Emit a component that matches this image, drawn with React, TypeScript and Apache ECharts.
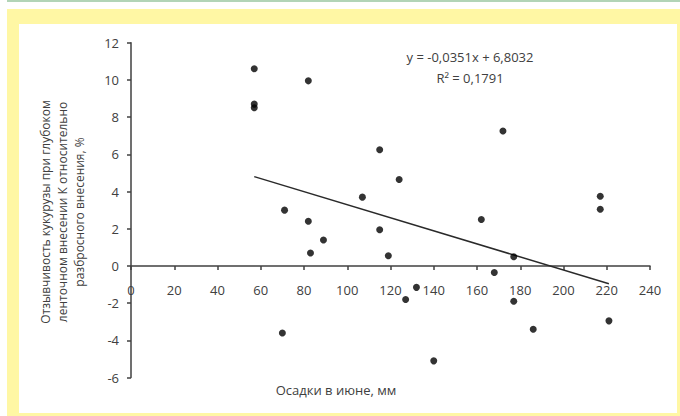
import React, { useEffect, useRef } from "react";
import * as echarts from "echarts";

// Precipitation in June, mm
const rainfall = [
  57, 57, 57, 82, 70, 71, 82, 83, 89, 107, 115, 115, 119,
  124, 127, 132, 140, 162, 168, 172, 177, 177, 186, 217, 217, 221,
];
// Response of maize to deep band application of K vs broadcast, %
const response = [
  10.6, 8.7, 8.5, 9.95, -3.6, 3.0, 2.4, 0.7, 1.4, 3.7, 6.25, 1.95, 0.55,
  4.65, -1.8, -1.15, -5.1, 2.5, -0.35, 7.25, 0.5, -1.9, -3.4, 3.75, 3.05, -2.95,
];

// Linear trend: y = slope * x + intercept
const slope = -0.0351;
const intercept = 6.8032;
const rSquared = 0.1791;

const xTicks = { min: 0, max: 240, interval: 20 };
const yTicks = { min: -6, max: 12, interval: 2 };

const xTitle = "Осадки в июне, мм";
const yTitle =
  "Отзывчивость кукурузы при глубоком\nленточном внесении К относительно\nразбросного внесения, %";

const fmt = (v: number) => Math.abs(v).toFixed(4).replace(".", ",");

const FONT = "'Open Sans', 'Liberation Sans', sans-serif";
const TEXT = "#404040";

const GRID = { left: 131, right: 30, top: 42.7, bottom: 38.4 };
const HEIGHT = 416;

export default function App() {
  const ref = useRef<HTMLDivElement>(null);

  useEffect(() => {
    if (!ref.current) return;
    const chart = echarts.init(ref.current, undefined, { renderer: "svg" });

    const points = rainfall.map((x, i) => [x, response[i]]);
    const xMin = Math.min(...rainfall);
    const xMax = Math.max(...rainfall);
    const trend = [
      [xMin, slope * xMin + intercept],
      [xMax, slope * xMax + intercept],
    ];
    const equation = `y = ${slope < 0 ? "-" : ""}${fmt(slope)}x ${
      intercept < 0 ? "-" : "+"
    } ${fmt(intercept)}`;
    const r2 = `R² = ${rSquared.toFixed(4).replace(".", ",")}`;

    // shift the category axis (with its labels) up to the y = 0 line
    const plotH = HEIGHT - GRID.top - GRID.bottom;
    const zeroOffset = (plotH * (0 - yTicks.min)) / (yTicks.max - yTicks.min);

    chart.setOption({
      animation: false,
      textStyle: { fontFamily: FONT },
      grid: GRID,
      xAxis: {
        type: "value",
        position: "bottom",
        offset: -zeroOffset,
        min: xTicks.min,
        max: xTicks.max,
        interval: xTicks.interval,
        splitLine: { show: false },
        axisLine: { onZero: false, lineStyle: { color: TEXT, width: 1.5 } },
        axisTick: { show: true, inside: false, length: 4, lineStyle: { color: TEXT, width: 1.5 } },
        axisLabel: { color: TEXT, fontSize: 13, margin: 18, fontFamily: FONT, showMinLabel: true },
      },
      yAxis: {
        type: "value",
        min: yTicks.min,
        max: yTicks.max,
        interval: yTicks.interval,
        splitLine: { show: false },
        axisLine: { show: true, onZero: false, lineStyle: { color: TEXT, width: 1.5 } },
        axisTick: { show: true, length: 4, lineStyle: { color: TEXT, width: 1.5 } },
        axisLabel: { color: TEXT, fontSize: 13, margin: 12, fontFamily: FONT },
      },
      series: [
        {
          type: "line",
          data: trend,
          symbol: "none",
          lineStyle: { color: "#2a2a2a", width: 1.5 },
          z: 2,
        },
        {
          type: "scatter",
          data: points,
          symbol: "circle",
          symbolSize: 7,
          itemStyle: { color: "#000" },
          z: 3,
        },
      ],
      graphic: [
        {
          type: "text",
          x: 470,
          y: 57,
          style: {
            text: equation,
            fill: TEXT,
            font: `13px ${FONT}`,
            align: "center",
            verticalAlign: "middle",
          },
        },
        {
          type: "text",
          x: 470,
          y: 78,
          style: {
            text: r2,
            fill: TEXT,
            font: `13px ${FONT}`,
            align: "center",
            verticalAlign: "middle",
          },
        },
        {
          type: "text",
          x: 336,
          y: 390,
          style: {
            text: xTitle,
            fill: TEXT,
            font: `13px ${FONT}`,
            align: "center",
            verticalAlign: "middle",
          },
        },
        {
          type: "text",
          x: 62,
          y: 212,
          rotation: Math.PI / 2,
          style: {
            text: yTitle,
            fill: TEXT,
            font: `12px ${FONT}`,
            lineHeight: 17,
            align: "center",
            verticalAlign: "middle",
          },
        },
      ],
    });

    return () => chart.dispose();
  }, []);

  return (
    <div style={{ position: "fixed", left: 0, top: 0, width: 680, height: 416, background: "#fff" }}>
      <div style={{ position: "absolute", left: 7, top: 0, width: 673, height: 2, background: "#b2d4b7" }} />
      <div style={{ position: "absolute", left: 7, top: 9, width: 673, height: 407, background: "#fff7a4" }} />
      <div style={{ position: "absolute", left: 19, top: 24, width: 658, height: 389, background: "#fff" }} />
      <div ref={ref} style={{ position: "absolute", left: 0, top: 0, width: 680, height: 416 }} />
    </div>
  );
}
